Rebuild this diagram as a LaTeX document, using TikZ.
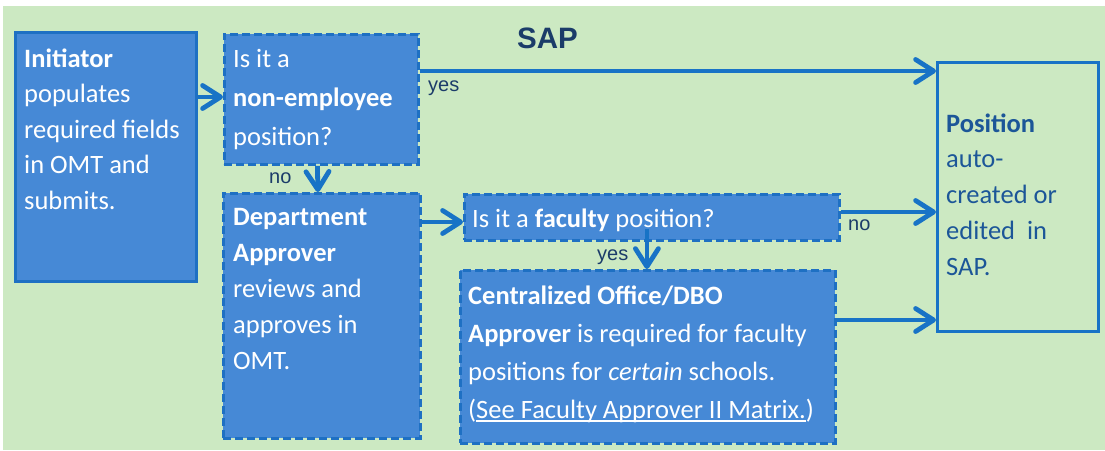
\documentclass[tikz,border=0pt]{standalone}
\usepackage{fontspec}
\setmainfont{Carlito}
\newfontfamily\arialfont{Liberation Sans}
\usetikzlibrary{arrows.meta,calc}
\definecolor{bggreen}{RGB}{204,233,194}
\definecolor{boxfill}{RGB}{70,137,214}
\definecolor{boxline}{RGB}{30,112,195}
\definecolor{arrowcol}{RGB}{24,115,198}
\definecolor{labelblue}{RGB}{27,60,105}
\definecolor{postext}{RGB}{28,86,152}
\newcommand\lns[1]{\begin{tabular}[t]{@{}l@{}}#1\end{tabular}}
\newcommand\ulink[1]{\leavevmode\setbox0\hbox{#1}\rlap{\rule[-2.8pt]{\wd0}{1.4pt}}\box0}
\begin{document}
\begin{tikzpicture}[x=1pt,y=-1pt,
  solidbox/.style={draw=boxline, fill=boxfill, line width=2.5pt, inner sep=0pt, anchor=north west},
  dashbox/.style={solidbox, line width=2.8pt, dash pattern=on 8pt off 4pt},
  posbox/.style={draw=arrowcol, fill=bggreen, line width=2.5pt, inner sep=0pt, anchor=north west},
  txt/.style={anchor=base west, inner sep=0pt, text=white},
  lbl/.style={anchor=base west, inner sep=0pt, text=labelblue, font=\arialfont\fontsize{20}{24}\selectfont},
  arr/.style={draw=arrowcol, line width=4.8pt, -{Straight Barb[length=18pt,width=23pt,round]}}
]
\useasboundingbox (0,0) rectangle (1105,450);
\fill[white] (0,0) rectangle (1105,450);
\fill[bggreen] (3,6) rectangle (1105,450);

% boxes
\node[solidbox, minimum width=181, minimum height=249] (init) at (14,31) {};
\node[dashbox, minimum width=194, minimum height=130] (q1) at (223,33) {};
\node[dashbox, minimum width=197, minimum height=245] (dept) at (222,192) {};
\node[dashbox, minimum width=375, minimum height=46] (q2) at (463,193) {};
\node[dashbox, minimum width=375, minimum height=173] (co) at (459,269) {};
\node[posbox, minimum width=161, minimum height=269] (pos) at (936,61) {};

% texts
\node[txt, font=\fontsize{26.5}{35.6}\selectfont] (initT) at ($(init.north west)+(10,36)$)
  {\lns{\textbf{Initiator}\\populates\\required fields\\in OMT and\\submits.}};
\node[txt, font=\fontsize{26.5}{39}\selectfont] (q1T) at ($(q1.north west)+(10,34)$)
  {\lns{Is it a\\\textbf{non-employee}\\position?}};
\node[txt, font=\fontsize{26.5}{36}\selectfont] (deptT) at ($(dept.north west)+(11,33.5)$)
  {\lns{\textbf{Department}\\\textbf{Approver}\\reviews and\\approves in\\OMT.}};
\node[txt, font=\fontsize{26.5}{38.5}\selectfont] (q2T) at ($(q2.north west)+(9,34)$)
  {Is it a \textbf{faculty} position?};
\node[txt, font=\fontsize{26.5}{38.3}\selectfont] (coT) at ($(co.north west)+(9,35)$)
  {\lns{\textbf{Centralized Office/DBO}\\\textbf{Approver} is required for faculty\\positions for \textit{certain} schools.\\(\ulink{See Faculty Approver II Matrix.})}};
\node[txt, text=postext, font=\fontsize{26.5}{35.8}\selectfont] (posT) at ($(pos.north west)+(10,71)$)
  {\lns{\textbf{Position}\\auto-\\created or\\edited\ \ in\\SAP.}};

\node[anchor=base, inner sep=0pt, text=labelblue, font=\arialfont\bfseries\fontsize{29.5}{34}\selectfont] (sap) at (547.5,48) {SAP};

% connectors
\draw[arr] (init.east |- 0,97) -- (q1.west |- 0,97);
\draw[arr] ($(q1.south)+(-4,0)$) -- ($(dept.north)+(-4,0)$);
\draw[arr] (q1.east |- 0,71) -- (pos.west |- 0,71);
\draw[arr] (dept.east |- 0,222) -- (q2.west |- 0,222);
\draw[arr] (q2.east |- 0,212) -- (pos.west |- 0,212);
\draw[arr] ($(co.north |- q2.south)+(-1,-13)$) -- ($(co.north)+(-1,0)$);
\draw[arr] (co.east |- 0,320) -- (pos.west |- 0,320);

% labels
\node[lbl] (yes1) at (428,91) {yes};
\node[lbl] (no1) at (269,183) {no};
\node[lbl] (no2) at (848,230) {no};
\node[lbl] (yes2) at (597,260) {yes};
\end{tikzpicture}
\end{document}
